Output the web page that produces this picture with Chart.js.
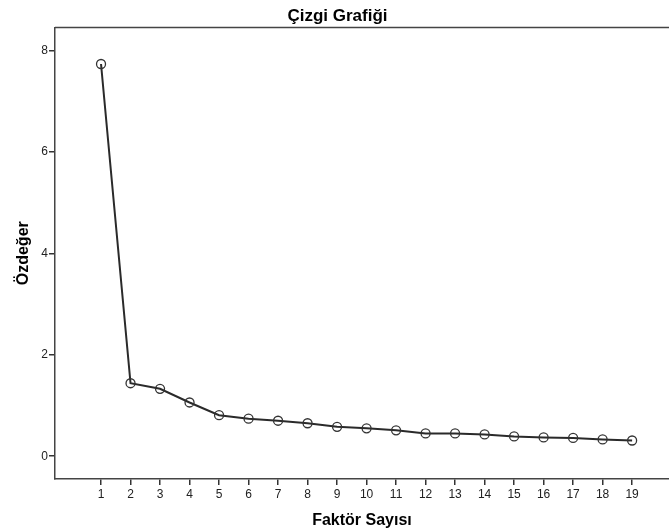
<!DOCTYPE html>
<html>
<head>
<meta charset="utf-8">
<script src="https://cdn.jsdelivr.net/npm/chart.js@4/dist/chart.umd.min.js"></script>
<style>
html,body{margin:0;padding:0;background:#fff;}
#wrap{width:669px;height:532px;}
</style>
</head>
<body>
<div id="wrap"><canvas id="c" width="669" height="532"></canvas></div>
<script>
const factors = [1,2,3,4,5,6,7,8,9,10,11,12,13,14,15,16,17,18,19];
const eigenvalues = [7.74,1.44,1.33,1.06,0.81,0.74,0.70,0.65,0.58,0.55,0.51,0.45,0.45,0.43,0.39,0.37,0.36,0.33,0.31];
const yTicks = [0,2,4,6,8];
const titleText = 'Çizgi Grafiği';
const xTitle = 'Faktör Sayısı';
const yTitle = 'Özdeğer';

const FONT = 'Liberation Sans, Arial, sans-serif';
const INK = '#2a2a2a';

const topFrame = {
  id: 'topFrame',
  afterDraw(chart) {
    const a = chart.chartArea, ctx = chart.ctx;
    ctx.save();
    ctx.strokeStyle = '#444';
    ctx.lineWidth = 1.5;
    ctx.beginPath();
    ctx.moveTo(a.left, a.top);
    ctx.lineTo(chart.width, a.top);
    ctx.stroke();
    ctx.restore();
  }
};

new Chart(document.getElementById('c'), {
  type: 'line',
  data: {
    datasets: [{
      data: factors.map((f, i) => ({x: f, y: eigenvalues[i]})),
      borderColor: INK,
      borderWidth: 2,
      pointRadius: 4.5,
      pointHoverRadius: 4.5,
      pointBackgroundColor: 'rgba(255,255,255,0)',
      pointBorderColor: '#333',
      pointBorderWidth: 1.3,
      tension: 0,
      fill: false,
      clip: false
    }]
  },
  options: {
    responsive: false,
    animation: false,
    events: [],
    layout: {padding: {left: 0, right: -6, top: 0, bottom: 0}, autoPadding: false},
    plugins: {
      legend: {display: false},
      tooltip: {enabled: false},
      title: {
        display: true,
        text: titleText,
        color: '#000',
        font: {family: FONT, size: 17, weight: 'bold'},
        padding: {top: 5.8, bottom: 1.3}
      }
    },
    scales: {
      x: {
        type: 'linear',
        min: -0.56,
        max: 20.25,
        afterBuildTicks(scale) { scale.ticks = factors.map(v => ({value: v})); },
        afterFit(scale) { scale.height = 53; scale.paddingLeft = 0; scale.paddingRight = 0; },
        grid: {display: true, drawOnChartArea: false, drawTicks: true, tickLength: 6, color: '#333', lineWidth: 1.5},
        border: {display: true, color: '#444', width: 1.5},
        ticks: {color: '#222', font: {family: FONT, size: 12}, padding: 2, maxRotation: 0, autoSkip: false},
        title: {display: true, text: xTitle, color: '#000', font: {family: FONT, size: 16, weight: 'bold'}, padding: {top: 0, bottom: 1.4}}
      },
      y: {
        type: 'linear',
        min: -0.45,
        max: 8.46,
        afterBuildTicks(scale) { scale.ticks = yTicks.map(v => ({value: v})); },
        afterFit(scale) { scale.width = 55; scale.paddingTop = 0; scale.paddingBottom = 0; },
        grid: {display: true, drawOnChartArea: false, drawTicks: true, tickLength: 6, color: '#333', lineWidth: 1.5},
        border: {display: true, color: '#444', width: 1.5},
        ticks: {color: '#222', font: {family: FONT, size: 12}, padding: 1},
        title: {display: true, text: yTitle, color: '#000', font: {family: FONT, size: 16, weight: 'bold'}, padding: {top: 14.4, bottom: 0}}
      }
    }
  },
  plugins: [topFrame]
});
</script>
</body>
</html>
